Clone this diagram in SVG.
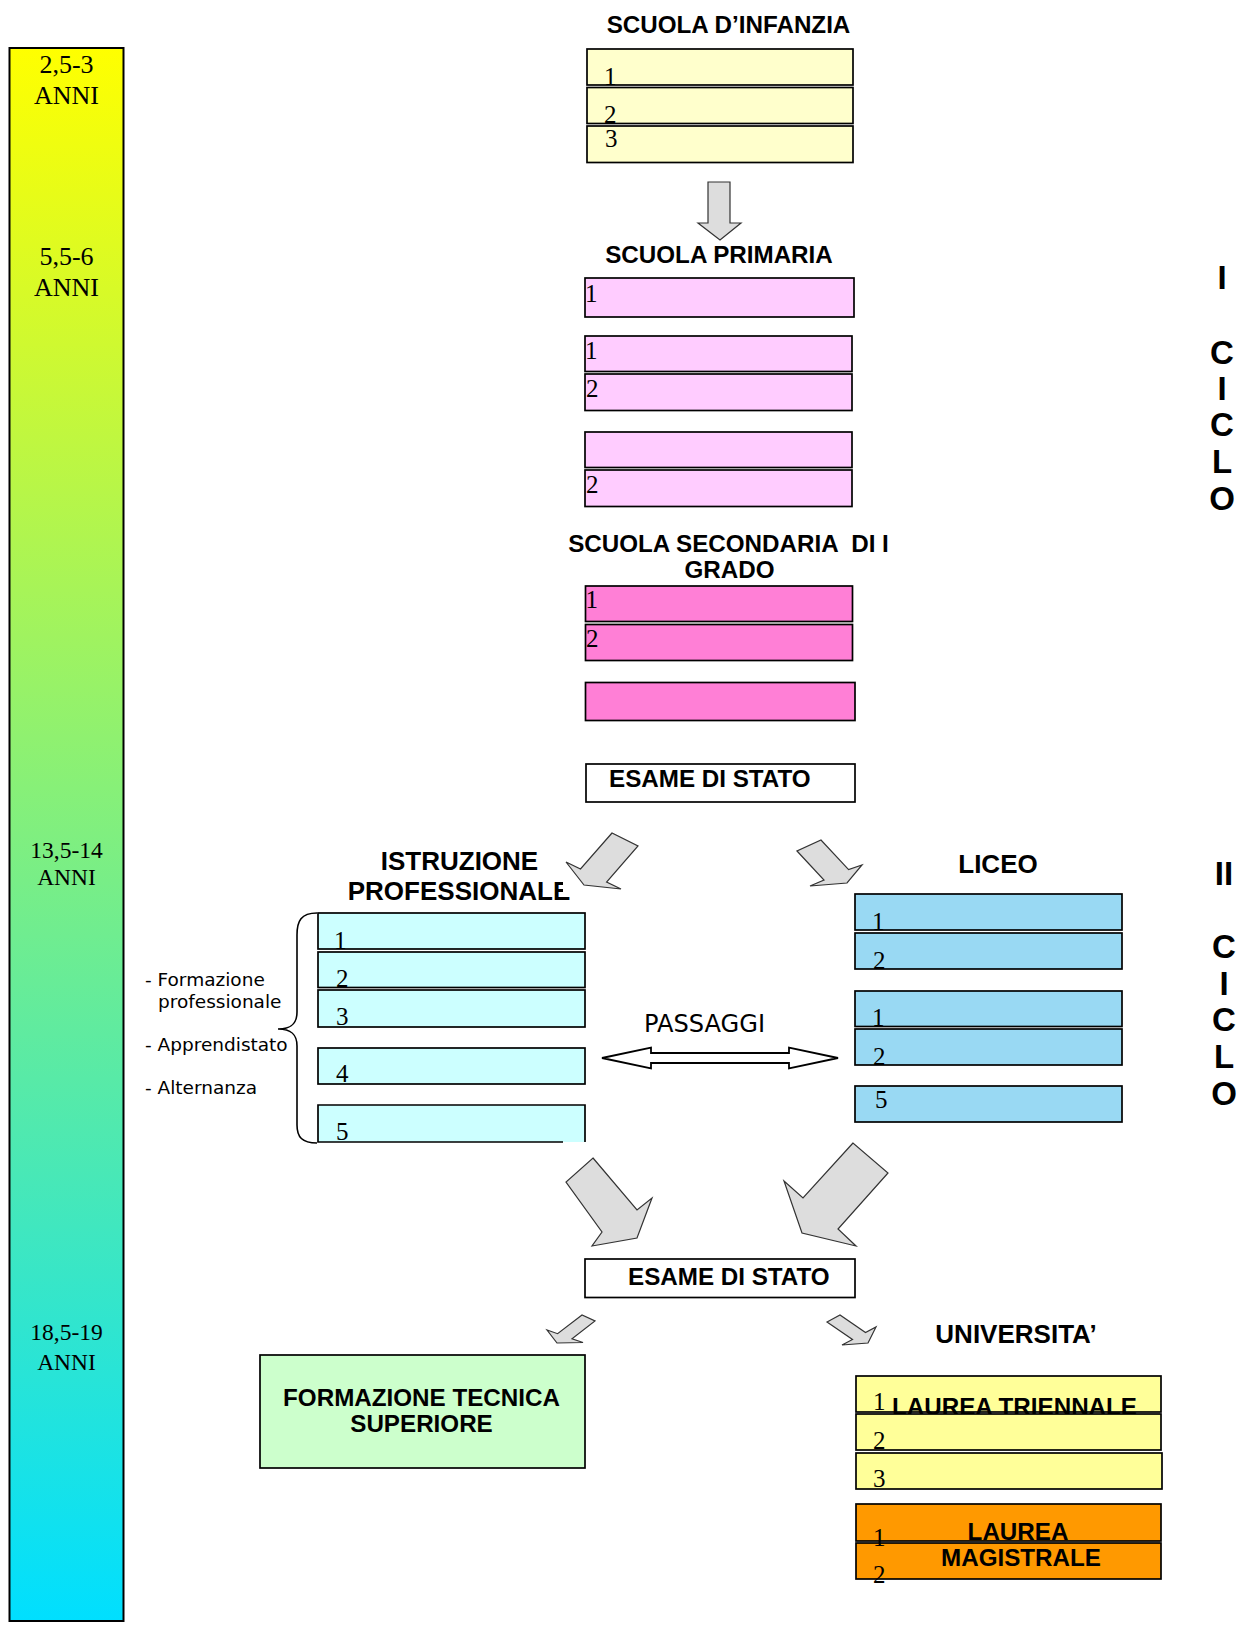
<svg xmlns="http://www.w3.org/2000/svg" width="1245" height="1630" viewBox="0 0 1245 1630">
<defs>
<linearGradient id="age" x1="0" y1="0" x2="0" y2="1">
<stop offset="0" stop-color="#FFFF00"/>
<stop offset="1" stop-color="#00DFFF"/>
</linearGradient>
<clipPath id="profclip">
<path d="M0,0 H563 V893 H1245 V1630 H0 Z"/>
</clipPath>
</defs>
<style>
.b{stroke:#000;stroke-width:1.7}
.inf{fill:#FFFFCC}
.pri{fill:#FFCCFF}
.sec{fill:#FF7FD6}
.pro{fill:#CCFFFF}
.lic{fill:#99D9F3}
.uni{fill:#FFFF99}
.mag{fill:#FF9900}
.wh{fill:#FFFFFF}
.fts{fill:#CCFFCC}
.t{font-family:"Liberation Sans",Arial,sans-serif;font-weight:bold;font-size:24.2px;fill:#000}
.tl{font-family:"Liberation Sans",Arial,sans-serif;font-weight:bold;font-size:26px;fill:#000}
.n{font-family:"Liberation Serif","Times New Roman",serif;font-size:25px;fill:#000}
.age{font-family:"Liberation Serif","Times New Roman",serif;font-size:26px;fill:#000;text-anchor:middle}
.age2{font-family:"Liberation Serif","Times New Roman",serif;font-size:23.5px;fill:#000;text-anchor:middle}
.s{font-family:"DejaVu Sans",Verdana,sans-serif;font-size:18.5px;fill:#000}
.cy{font-family:"Liberation Sans",Arial,sans-serif;font-weight:bold;font-size:33px;fill:#000;text-anchor:middle}
.arr{fill:#DDDDDD;stroke:#333;stroke-width:1.2;stroke-linejoin:miter}
.m{text-anchor:middle}
</style>

<g id="eta">
<rect x="9.5" y="48" width="114" height="1573" fill="url(#age)" stroke="#000" stroke-width="2"/>
<text class="age" x="66.5" y="73">2,5-3</text>
<text class="age" x="66.5" y="104">ANNI</text>
<text class="age" x="66.5" y="265">5,5-6</text>
<text class="age" x="66.5" y="296">ANNI</text>
<text class="age2" x="66.5" y="858">13,5-14</text>
<text class="age2" x="66.5" y="885">ANNI</text>
<text class="age2" x="66.5" y="1340">18,5-19</text>
<text class="age2" x="66.5" y="1370">ANNI</text>
</g>

<g id="infanzia">
<text class="t m" x="728.5" y="33">SCUOLA D’INFANZIA</text>
<rect class="inf b" x="587" y="49" width="266" height="36"/>
<text class="n" x="604" y="85">1</text>
<rect class="inf b" x="587" y="87.5" width="266" height="36"/>
<text class="n" x="604" y="123">2</text>
<rect class="inf b" x="587" y="126" width="266" height="36.5"/>
<text class="n" x="605" y="147">3</text>
</g>

<g id="primaria">
<text class="t m" x="719" y="263">SCUOLA PRIMARIA</text>
<rect class="pri b" x="585" y="278" width="269" height="39"/>
<text class="n" x="585" y="302">1</text>
<rect class="pri b" x="585" y="336" width="267" height="35.5"/>
<text class="n" x="585" y="359">1</text>
<rect class="pri b" x="585" y="374" width="267" height="36.5"/>
<text class="n" x="586" y="397">2</text>
<rect class="pri b" x="585" y="432" width="267" height="35.5"/>
<rect class="pri b" x="585" y="470" width="267" height="36.5"/>
<text class="n" x="586" y="493">2</text>
</g>

<g id="secondaria">
<text class="t m" x="728.5" y="552">SCUOLA SECONDARIA &#160;DI I</text>
<text class="t m" x="729.5" y="578">GRADO</text>
<rect class="sec b" x="585.5" y="586" width="267" height="35.5"/>
<text class="n" x="585.5" y="608">1</text>
<rect class="sec b" x="585.5" y="624.5" width="267" height="36"/>
<text class="n" x="586" y="647">2</text>
<rect class="sec b" x="585.5" y="682.5" width="269.5" height="38"/>
</g>

<g id="esame1">
<rect class="wh b" x="586" y="764" width="269" height="38"/>
<text class="t" x="609" y="787">ESAME DI STATO</text>
</g>

<g id="professionale">
<text class="tl m" x="459.5" y="870">ISTRUZIONE</text>
<text class="tl m" x="459" y="900" clip-path="url(#profclip)">PROFESSIONALE</text>
<rect class="pro b" x="318" y="913" width="267" height="36"/>
<text class="n" x="334" y="949">1</text>
<rect class="pro b" x="318" y="952" width="267" height="35.5"/>
<text class="n" x="336" y="987">2</text>
<rect class="pro b" x="318" y="990" width="267" height="37"/>
<text class="n" x="336" y="1025">3</text>
<rect class="pro b" x="318" y="1048" width="267" height="36"/>
<text class="n" x="336" y="1082">4</text>
<rect class="pro" x="318" y="1105" width="267" height="37"/>
<path d="M563,1142 H318 V1105 H585 V1142" fill="none" class="b"/>
<text class="n" x="336" y="1140">5</text>
<path d="M317,913 C301,913 297,921 297,935 L297,1012 C297,1024 291,1029 278,1029 C291,1029 297,1034 297,1046 L297,1125 C297,1137 302,1143 317,1143" fill="none" stroke="#000" stroke-width="1.6"/>
<text class="s" x="145" y="986">- Formazione</text>
<text class="s" x="158" y="1008">professionale</text>
<text class="s" x="145" y="1051">- Apprendistato</text>
<text class="s" x="145" y="1094">- Alternanza</text>
</g>

<g id="liceo">
<text class="tl m" x="998" y="873">LICEO</text>
<rect class="lic b" x="855" y="894" width="267" height="36"/>
<text class="n" x="872" y="930">1</text>
<rect class="lic b" x="855" y="933" width="267" height="36"/>
<text class="n" x="873" y="969">2</text>
<rect class="lic b" x="855" y="991" width="267" height="35.5"/>
<text class="n" x="872" y="1026">1</text>
<rect class="lic b" x="855" y="1029" width="267" height="36"/>
<text class="n" x="873" y="1065">2</text>
<rect class="lic b" x="855" y="1086" width="267" height="36"/>
<text class="n" x="875" y="1108">5</text>
</g>

<g id="passaggi">
<text x="644" y="1032" font-family="DejaVu Sans, Verdana, sans-serif" font-size="25" textLength="121" lengthAdjust="spacingAndGlyphs">PASSAGGI</text>
</g>

<g id="esame2">
<rect class="wh b" x="585" y="1259" width="270" height="38.5"/>
<text class="t" x="628" y="1285">ESAME DI STATO</text>
</g>

<g id="fts">
<rect class="fts b" x="260" y="1355" width="325" height="113"/>
<text class="t m" x="421.5" y="1406">FORMAZIONE TECNICA</text>
<text class="t m" x="421.5" y="1432">SUPERIORE</text>
</g>

<g id="universita">
<text class="t m" x="1016" y="1343" style="font-size:26px">UNIVERSITA’</text>
<rect class="uni b" x="856" y="1376" width="305" height="36"/>
<text class="n" x="873" y="1410">1</text>
<text class="t m" x="1014.5" y="1415">LAUREA TRIENNALE</text>
<rect class="uni b" x="856" y="1414" width="305" height="36"/>
<text class="n" x="873" y="1449">2</text>
<rect class="uni b" x="856" y="1453" width="306" height="36"/>
<text class="n" x="873" y="1487">3</text>
<rect class="mag b" x="856" y="1504" width="305" height="37"/>
<text class="t m" x="1018" y="1540">LAUREA</text>
<rect class="mag b" x="856" y="1543" width="305" height="36"/>
<text class="n" x="873" y="1546">1</text>
<text class="n" x="873" y="1583">2</text>
<text class="t m" x="1021" y="1566">MAGISTRALE</text>
</g>

<g id="ciclo1">
<text class="cy" x="1222" y="289">I</text>
<text class="cy" x="1222" y="364">C</text>
<text class="cy" x="1222" y="400">I</text>
<text class="cy" x="1222" y="436">C</text>
<text class="cy" x="1222" y="473">L</text>
<text class="cy" x="1222" y="510">O</text>
</g>
<g id="ciclo2">
<text class="cy" x="1224" y="885">II</text>
<text class="cy" x="1224" y="958">C</text>
<text class="cy" x="1224" y="995">I</text>
<text class="cy" x="1224" y="1031">C</text>
<text class="cy" x="1224" y="1068">L</text>
<text class="cy" x="1224" y="1105">O</text>
</g>

<g id="connectors">
<polygon class="arr" points="708,182 730,182 730,223 741,223 720,240 698,223 708,223"/>
<polygon class="arr" points="612,833 580.5,869 566,862 584,885 621,889 606.6,882 638,846"/>
<polygon class="arr" points="797,851 824,880 810,886 847,883 862,865 848.6,869.6 821,840"/>
<polygon points="602,1058 651,1047.5 651,1053 789,1053 789,1047.5 838,1058 789,1068.5 789,1063 651,1063 651,1068.5" fill="#FFFFFF" stroke="#000" stroke-width="1.8"/>
<polygon class="arr" points="593,1158 637,1210 652,1198 637,1238 592,1246 602,1232 566,1182"/>
<polygon class="arr" points="853,1143 803,1198 784,1181 802,1233 856,1246 838,1229 888,1173"/>
<polygon class="arr" points="582,1315 557.6,1333.7 547,1330 557,1343 583,1342.5 572,1338.7 595,1321"/>
<polygon class="arr" points="827,1322 852.5,1339.5 842,1345 868,1343 876,1327 865.5,1332.5 840,1315"/>
</g>
</svg>
